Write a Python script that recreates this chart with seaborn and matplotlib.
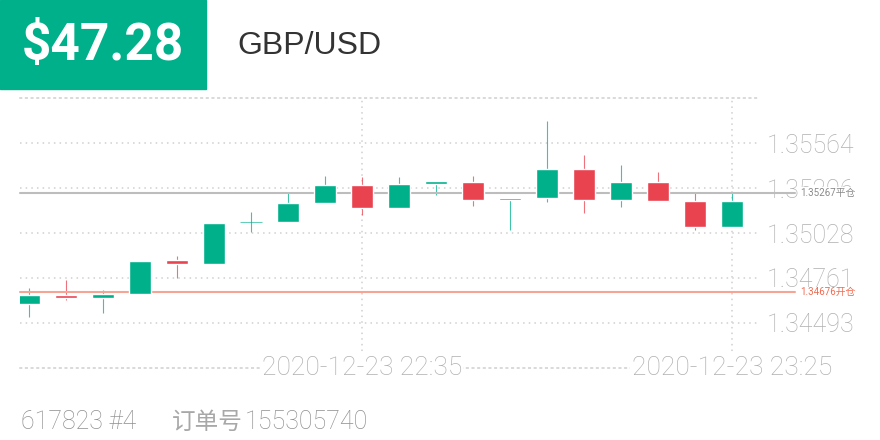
import matplotlib
matplotlib.use("Agg")
import matplotlib.pyplot as plt
import seaborn as sns
import numpy as np

# 5-minute GBP/USD candles, 21:50 .. 23:25
opens  = [1.34606, 1.34660, 1.34642, 1.34666, 1.34868, 1.34844, 1.35094, 1.35094, 1.35207, 1.35314,
          1.35177, 1.35320, 1.35332, 1.35225, 1.35237, 1.35409, 1.35225, 1.35332, 1.35219, 1.35064]
closes = [1.34660, 1.34642, 1.34666, 1.34862, 1.34844, 1.35088, 1.35094, 1.35207, 1.35314, 1.35177,
          1.35320, 1.35338, 1.35225, 1.35237, 1.35409, 1.35225, 1.35332, 1.35219, 1.35064, 1.35219]
highs  = [1.34701, 1.34749, 1.34689, 1.34862, 1.34892, 1.35088, 1.35153, 1.35267, 1.35368, 1.35362,
          1.35362, 1.35338, 1.35368, 1.35237, 1.35695, 1.35493, 1.35433, 1.35391, 1.35267, 1.35267]
lows   = [1.34529, 1.34630, 1.34553, 1.34666, 1.34761, 1.34844, 1.35034, 1.35094, 1.35207, 1.35136,
          1.35177, 1.35255, 1.35189, 1.35046, 1.35213, 1.35148, 1.35183, 1.35219, 1.35046, 1.35064]

price_ticks = [1.34493, 1.34761, 1.35028, 1.35296, 1.35564]
y_range = (1.34225, 1.35832)
time_labels = {9: "2020-12-23 22:35", 19: "2020-12-23 23:25"}

close_price = 1.35267
open_price = 1.34676
profit = "$47.28"
symbol = "GBP/USD"
footer_left = "617823 #4"
order_label = "订单号"
order_id = "155305740"

GREEN = "#00B08B"
RED = "#E8434F"
GRID = "#D0D0D0"
LABEL = "#B0B0B0"

sns.set_style("white")
plt.rcParams["font.family"] = ["Roboto", "Noto Sans CJK SC", "DejaVu Sans"]

fig = plt.figure(figsize=(8.8, 4.4), dpi=100)
ax = fig.add_axes([20 / 880, 72 / 440, 740 / 880, 270 / 440])

n = len(opens)
idx = np.arange(n)
ax.set_xlim(-0.243, n - 1 + 0.757)
ax.set_ylim(*y_range)

# grid
dots = (0, (1, 2.7))
ax.set_yticks(price_ticks)
ax.set_yticklabels([f"{v:.5f}" for v in price_ticks])
ax.set_xticks(list(time_labels.keys()))
ax.set_xticklabels([])
ax.grid(True, color=GRID, linestyle=dots, linewidth=1.1)
ax.set_axisbelow(True)
ax.yaxis.tick_right()
ax.tick_params(axis="y", length=0, pad=5, labelsize=18, labelcolor=LABEL)
ax.tick_params(axis="x", length=0)
for lbl in ax.get_yticklabels():
    lbl.set_fontweight("light")
for side in ["left", "right"]:
    ax.spines[side].set_visible(False)
for side in ["top", "bottom"]:
    ax.spines[side].set_color(GRID)
    ax.spines[side].set_linestyle(dots)
    ax.spines[side].set_linewidth(1.1)

# candles
for i in idx:
    o, c, h, l = opens[i], closes[i], highs[i], lows[i]
    col = GREEN if c >= o else RED
    ax.vlines(i, l, h, color=col, linewidth=0.8, alpha=0.75, zorder=3)
    if abs(c - o) < 1e-6:
        ax.hlines(o, i - 0.3, i + 0.3, color=col, linewidth=0.8, alpha=0.6, zorder=3)
    else:
        ax.bar(i, abs(c - o), bottom=min(o, c), width=0.6, color=col, zorder=4)

# position lines
ax.axhline(close_price, xmin=0, xmax=775 / 740, color="#BDBDBD", linewidth=1.5,
           clip_on=False, zorder=3)
ax.axhline(open_price, xmin=0, xmax=775 / 740, color="#F6A595", linewidth=1.5,
           clip_on=False, zorder=3)
ax.text(780 / 740, close_price, f"{close_price:.5f}平仓", transform=ax.get_yaxis_transform(),
        ha="left", va="center", fontsize=7, color="#8A8A8A", clip_on=False, zorder=5,
        bbox=dict(facecolor="white", edgecolor="none", pad=0.5))
ax.text(780 / 740, open_price, f"{open_price:.5f}开仓", transform=ax.get_yaxis_transform(),
        ha="left", va="center", fontsize=7, color="#F26A4F", clip_on=False, zorder=5,
        bbox=dict(facecolor="white", edgecolor="none", pad=0.5))

# time labels on the bottom line
for i, lab in time_labels.items():
    ax.text(i, 0, lab, transform=ax.get_xaxis_transform(), ha="center", va="center",
            fontsize=19, fontweight="light", color=LABEL, clip_on=False, zorder=5,
            bbox=dict(facecolor="white", edgecolor="none", pad=1))

# header
fig.patches.append(plt.Rectangle((0, 1 - 89 / 440), 206 / 880, 89 / 440,
                                 transform=fig.transFigure, color=GREEN, zorder=0))
fig.text(103 / 880, 1 - 46 / 440, profit, ha="center", va="center", fontsize=37,
         fontweight="bold", color="white")
fig.text(237 / 880, 1 - 46 / 440, symbol, ha="left", va="center", fontsize=23,
         family="Liberation Sans", color="#333333")

# footer
fig.text(21 / 880, 1 - 422 / 440, footer_left, ha="left", va="center", fontsize=18,
         fontweight="light", color="#8F8F8F")
fig.text(172 / 880, 1 - 422 / 440, order_label, ha="left", va="center", fontsize=17,
         family=["Noto Sans CJK SC", "DejaVu Sans"], fontweight="light", color="#A8A8A8")
fig.text(245 / 880, 1 - 422 / 440, order_id, ha="left", va="center", fontsize=18,
         fontweight="light", color="#8F8F8F")

fig.savefig("out.png", dpi=100, facecolor="white")
